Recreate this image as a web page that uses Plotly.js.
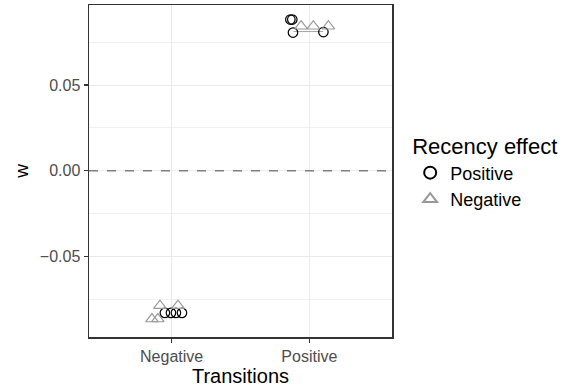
<!DOCTYPE html>
<html>
<head>
<meta charset="utf-8">
<script src="https://cdn.plot.ly/plotly-3.0.1.min.js"></script>
<style>html,body{margin:0;padding:0;background:#fff;}#chart{width:573px;height:392px;}</style>
</head>
<body>
<div id="chart"></div>
<script>
// Category positions on the x axis
const categories = ["Negative", "Positive"];
const categoryPos = [1, 2];

// Recency effect: Positive (circles) — jittered x and w values
const posX = [0.951, 0.995, 1.031, 1.075, 1.862, 1.876, 1.881, 2.102];
const posW = [-0.0830, -0.0830, -0.0830, -0.0830, 0.0883, 0.0883, 0.0807, 0.0810];

// Recency effect: Negative (triangles)
const negX = [0.915, 1.046, 0.857, 0.900, 1.940, 2.029, 2.138];
const negW = [-0.0788, -0.0788, -0.0866, -0.0866, 0.0844, 0.0844, 0.0844];

// small grey segment near Positive transitions
const segX = [1.885, 2.100];
const segW = [0.0813, 0.0813];

const traces = [
  {x: segX, y: segW, mode: "lines", line: {color: "#a6a6a6", width: 1}, showlegend: false, hoverinfo: "skip"},
  {x: posX, y: posW, mode: "markers", name: "Positive",
   marker: {symbol: "circle-open", size: 9.5, color: "#000", line: {width: 1.2, color: "#000"}}},
  {x: negX, y: negW, mode: "markers", name: "Negative",
   marker: {symbol: "triangle-up-open", size: 11, color: "#999", line: {width: 1.2, color: "#999"}}}
];

const font = "Liberation Sans, Arial, Helvetica, sans-serif";
const layout = {
  width: 573, height: 392,
  margin: {l: 89, r: 181, t: 5, b: 55},
  paper_bgcolor: "#fff", plot_bgcolor: "#fff",
  font: {family: font, color: "#000"},
  xaxis: {
    range: [0.4, 2.6], tickvals: categoryPos, ticktext: categories,
    showgrid: true, gridcolor: "#ebebeb", gridwidth: 1,
    zeroline: false, showline: true, mirror: true, linecolor: "#333", linewidth: 1.5,
    ticks: "outside", ticklen: 4, tickcolor: "#333", tickwidth: 1.5,
    tickfont: {size: 16, color: "#4d4d4d", family: font},
    title: {text: "Transitions", font: {size: 20, color: "#000", family: font}, standoff: 5}
  },
  yaxis: {
    range: [-0.0971, 0.0968], tick0: 0, dtick: 0.05, tickformat: ".2f",
    showgrid: true, gridcolor: "#ebebeb", gridwidth: 1,
    minor: {tick0: 0.025, dtick: 0.05, showgrid: true, gridcolor: "#f0f0f0", gridwidth: 1, ticks: ""},
    zeroline: false, showline: true, mirror: true, linecolor: "#333", linewidth: 1.5,
    ticks: "outside", ticklen: 4, tickcolor: "#333", tickwidth: 1.5,
    tickfont: {size: 16, color: "#4d4d4d", family: font},
    title: {text: "w", font: {size: 19, color: "#000", family: font}, standoff: 6}
  },
  shapes: [{type: "line", xref: "paper", yref: "y", x0: 0, x1: 1, y0: 0, y1: 0,
            line: {color: "#808080", width: 1.5, dash: "dash"}, layer: "above"}],
  legend: {
    x: 1.06, xanchor: "left", y: 0.636, yanchor: "top",
    title: {text: "Recency effect", font: {size: 22, family: font, color: "#000"}},
    font: {size: 18, family: font, color: "#000"},
    itemsizing: "constant",
    bgcolor: "rgba(0,0,0,0)", tracegroupgap: 0
  },
  showlegend: true
};

Plotly.newPlot("chart", traces, layout, {staticPlot: true, displayModeBar: false});
</script>
</body>
</html>
